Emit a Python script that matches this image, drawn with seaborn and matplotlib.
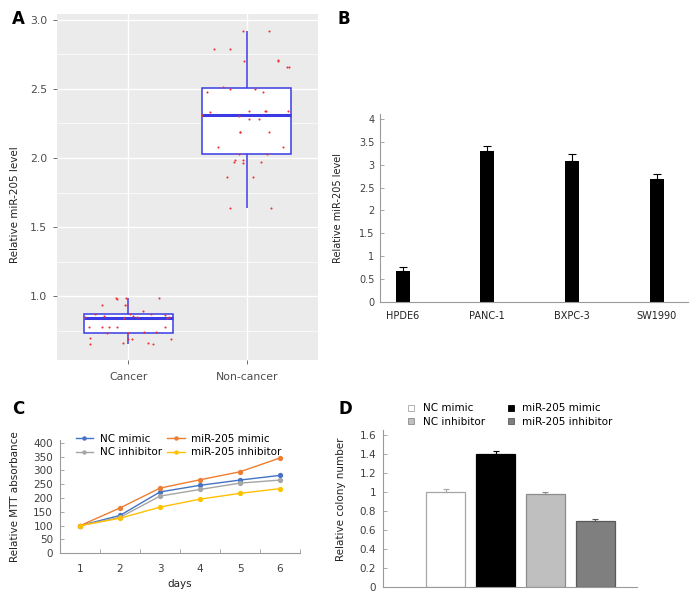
import numpy as np
import pandas as pd
import seaborn as sns
import matplotlib.pyplot as plt
from matplotlib.lines import Line2D
from matplotlib.ticker import MultipleLocator, FuncFormatter

# ---- data ----
# A: relative miR-205 level, tissue samples
tissue_groups = ["Cancer", "Non-cancer"]
cancer_vals = [0.655, 0.655, 0.66, 0.66, 0.69, 0.69, 0.695, 0.70,
               0.735, 0.735, 0.74, 0.74, 0.775, 0.78, 0.78, 0.78, 0.78,
               0.845, 0.845, 0.848, 0.85, 0.85, 0.855, 0.86, 0.865, 0.87,
               0.874, 0.875, 0.895, 0.935, 0.94, 0.94, 0.98, 0.985, 0.985, 0.985]
noncancer_vals = [1.635, 1.64, 1.86, 1.86, 1.965, 1.97, 1.97, 1.985, 1.985,
                  2.03, 2.03, 2.08, 2.08, 2.19, 2.19, 2.19, 2.28, 2.28, 2.30,
                  2.31, 2.33, 2.34, 2.34, 2.34, 2.34, 2.48, 2.48, 2.5, 2.5,
                  2.515, 2.656, 2.656, 2.70, 2.70, 2.71, 2.786, 2.79, 2.918, 2.92]

# B: cell lines
cell_lines = ["HPDE6", "PANC-1", "BXPC-3", "SW1990"]
cell_means = [0.68, 3.30, 3.085, 2.685]
cell_errs = [0.09, 0.10, 0.14, 0.11]

# C: MTT assay
days = [1, 2, 3, 4, 5, 6]
mtt_groups = ["NC mimic", "NC inhibitor", "miR-205 mimic", "miR-205 inhibitor"]
nc_mimic = [100, 137, 222, 246, 265, 282]
nc_inhib = [100, 130, 207, 231, 254, 265]
mir_mimic = [100, 164, 236, 266, 295, 345]
mir_inhib = [100, 127, 167, 196, 217, 234]
mtt_colors = ["#4472C4", "#A5A5A5", "#ED7D31", "#FFC000"]

# D: colony formation
colony_groups = ["NC mimic", "miR-205 mimic", "NC inhibitor", "miR-205 inhibitor"]
colony_means = [1.0, 1.40, 0.976, 0.69]
colony_errs = [0.03, 0.025, 0.018, 0.025]
colony_fill = ["white", "black", "#BFBFBF", "#7F7F7F"]
colony_edge = ["#A6A6A6", "black", "#8C8C8C", "#595959"]

plt.rcParams["font.family"] = ["DejaVu Sans"]
plt.rcParams["font.size"] = 7

W, H = 697, 600
fig = plt.figure(figsize=(W / 100, H / 100), dpi=100)


def px_axes(left, top, right, bottom):
    return fig.add_axes([left / W, 1 - bottom / H, (right - left) / W, (bottom - top) / H])


axis_grey = "#9A9A9A"
txt = "#404040"
fmt_g = FuncFormatter(lambda v, p: f"{v:g}")

# ---------------- A ----------------
axA = px_axes(57, 14, 318, 360)
axA.set_facecolor("#EBEBEB")
df_a = pd.DataFrame({
    "group": ["Cancer"] * len(cancer_vals) + ["Non-cancer"] * len(noncancer_vals),
    "level": cancer_vals + noncancer_vals,
})
blue = "#3B3BE6"
sns.boxplot(data=df_a, x="group", y="level", order=tissue_groups, width=0.75,
            color="white", linecolor=blue, linewidth=1.1, showcaps=False,
            showfliers=False, medianprops=dict(linewidth=2.2, color=blue), ax=axA)
np.random.seed(7)
sns.stripplot(data=df_a, x="group", y="level", order=tissue_groups, jitter=0.38,
              color="#F03030", size=1.5, linewidth=0, ax=axA)
for c in axA.collections:
    c.set_zorder(5)
axA.set_xlim(-0.6, 1.6)
axA.set_ylim(0.54, 3.04)
axA.set_yticks([1.0, 1.5, 2.0, 2.5, 3.0])
axA.set_yticklabels(["1.0", "1.5", "2.0", "2.5", "3.0"])
axA.yaxis.set_minor_locator(MultipleLocator(0.25))
axA.set_axisbelow(True)
axA.grid(True, which="major", color="white", linewidth=1.0)
axA.grid(True, which="minor", axis="y", color="white", linewidth=0.5)
axA.tick_params(which="minor", length=0)
axA.tick_params(which="major", length=3, width=0.6, color="#555555",
                labelcolor="#4D4D4D", labelsize=7.8, pad=4)
axA.tick_params(axis="x", pad=6)
for s in axA.spines.values():
    s.set_visible(False)
axA.set_xlabel("")
axA.set_ylabel("Relative miR-205 level", fontsize=7.5, color="#222222")
axA.yaxis.set_label_coords(-0.142, 0.45)

# ---------------- B ----------------
axB = px_axes(380, 114, 688, 301.7)
df_b = pd.DataFrame({"line": cell_lines, "level": cell_means})
sns.barplot(data=df_b, x="line", y="level", order=cell_lines, color="black",
            saturation=1, width=0.165, ax=axB)
axB.errorbar(np.arange(len(cell_lines)), cell_means,
             yerr=[np.zeros(len(cell_errs)), cell_errs], fmt="none",
             ecolor="black", elinewidth=0.8, capsize=3.2, capthick=0.8)
axB.set_xlim(-0.268, 3.37)
axB.set_ylim(0, 4.11)
axB.yaxis.set_major_locator(MultipleLocator(0.5))
axB.yaxis.set_major_formatter(fmt_g)
axB.tick_params(axis="y", direction="in", length=3, width=0.6, color=axis_grey,
                labelcolor=txt, pad=4)
axB.tick_params(axis="x", length=0, labelcolor="#222222", pad=7)
for k in ["top", "right"]:
    axB.spines[k].set_visible(False)
for k in ["left", "bottom"]:
    axB.spines[k].set_color(axis_grey)
    axB.spines[k].set_linewidth(0.8)
axB.set_xlabel("")
axB.set_ylabel("Relative miR-205 level", fontsize=7, color="#222222")
axB.yaxis.set_label_coords(-0.12, 0.5)

# ---------------- C ----------------
axC = px_axes(60, 440, 300, 553.3)
df_c = pd.DataFrame({
    "days": days * 4,
    "absorbance": nc_mimic + nc_inhib + mir_mimic + mir_inhib,
    "group": [g for g in mtt_groups for _ in days],
})
sns.lineplot(data=df_c, x="days", y="absorbance", hue="group", hue_order=mtt_groups,
             palette=mtt_colors, marker="o", markersize=3.8, markeredgewidth=0,
             linewidth=1.0, legend=False, ax=axC)
axC.set_xlim(0.5, 6.5)
axC.set_ylim(0, 410)
axC.set_xticks(days)
axC.xaxis.set_minor_locator(MultipleLocator(1, offset=0.5))
axC.yaxis.set_major_locator(MultipleLocator(50))
axC.tick_params(axis="x", which="major", length=0, labelsize=7.5, labelcolor=txt, pad=8)
axC.tick_params(axis="x", which="minor", direction="in", length=3, width=0.6, color=axis_grey)
axC.tick_params(axis="y", direction="in", length=3, width=0.6, color=axis_grey,
                labelcolor=txt, labelsize=7.5, pad=5)
for k in ["top", "right"]:
    axC.spines[k].set_visible(False)
for k in ["left", "bottom"]:
    axC.spines[k].set_color(axis_grey)
    axC.spines[k].set_linewidth(0.8)
axC.set_xlabel("days", fontsize=7.5, color="#222222", labelpad=3)
axC.set_ylabel("Relative MTT absorbance", fontsize=7.5, color="#222222")
axC.yaxis.set_label_coords(-0.167, 0.5)
c_handles = [Line2D([], [], color=c, marker="o", markersize=3.2, markeredgewidth=0,
                    linewidth=1.0) for c in mtt_colors]
axC.legend(c_handles, mtt_groups, ncol=2, loc="upper left", bbox_to_anchor=(0.065, 1.055),
           frameon=False, fontsize=7.5, handlelength=1.7, handletextpad=0.6,
           columnspacing=0.5, labelspacing=0.35, borderpad=0, borderaxespad=0)

# ---------------- D ----------------
axD = px_axes(383.3, 430, 636.7, 586.7)
df_d = pd.DataFrame({"group": colony_groups, "ratio": colony_means})
sns.barplot(data=df_d, x="group", y="ratio", order=colony_groups, hue="group",
            hue_order=colony_groups, palette=colony_fill, saturation=1, width=0.77,
            legend=False, ax=axD)
for patch, ec in zip(axD.patches, colony_edge):
    patch.set_edgecolor(ec)
    patch.set_linewidth(0.9)
for i, (m, e, ec) in enumerate(zip(colony_means, colony_errs, colony_edge)):
    axD.errorbar(i, m, yerr=[[0], [e]], fmt="none", ecolor=ec, elinewidth=0.8,
                 capsize=2.5, capthick=0.8)
axD.set_xlim(-1.25, 3.83)
axD.set_ylim(0, 1.65)
axD.yaxis.set_major_locator(MultipleLocator(0.2))
axD.yaxis.set_major_formatter(fmt_g)
axD.set_xticks([])
axD.tick_params(axis="y", direction="in", length=3, width=0.6, color=axis_grey,
                labelcolor=txt, labelsize=7.5, pad=5)
for k in ["top", "right"]:
    axD.spines[k].set_visible(False)
for k in ["left", "bottom"]:
    axD.spines[k].set_color(axis_grey)
    axD.spines[k].set_linewidth(0.8)
axD.set_xlabel("")
axD.set_ylabel("Relative colony number", fontsize=7.5, color="#222222")
axD.yaxis.set_label_coords(-0.147, 0.56)
leg_order = [0, 2, 1, 3]
d_handles = [Line2D([], [], marker="s", linestyle="none", markersize=4,
                    markerfacecolor=colony_fill[i], markeredgecolor=colony_edge[i],
                    markeredgewidth=0.6) for i in leg_order]
axD.legend(d_handles, [colony_groups[i] for i in leg_order], ncol=2, loc="upper left",
           bbox_to_anchor=(0.09, 1.17), frameon=False, fontsize=7.5, handlelength=1.0,
           handletextpad=0.6, columnspacing=2.0, labelspacing=0.35, borderpad=0,
           borderaxespad=0)

# panel letters
for lab, x, y in [("A", 18, 19), ("B", 344, 19), ("C", 18, 409), ("D", 345, 409)]:
    fig.text(x / W, 1 - y / H, lab, fontsize=12, fontweight="bold", ha="center", va="center")

fig.savefig("out.png", dpi=100)
